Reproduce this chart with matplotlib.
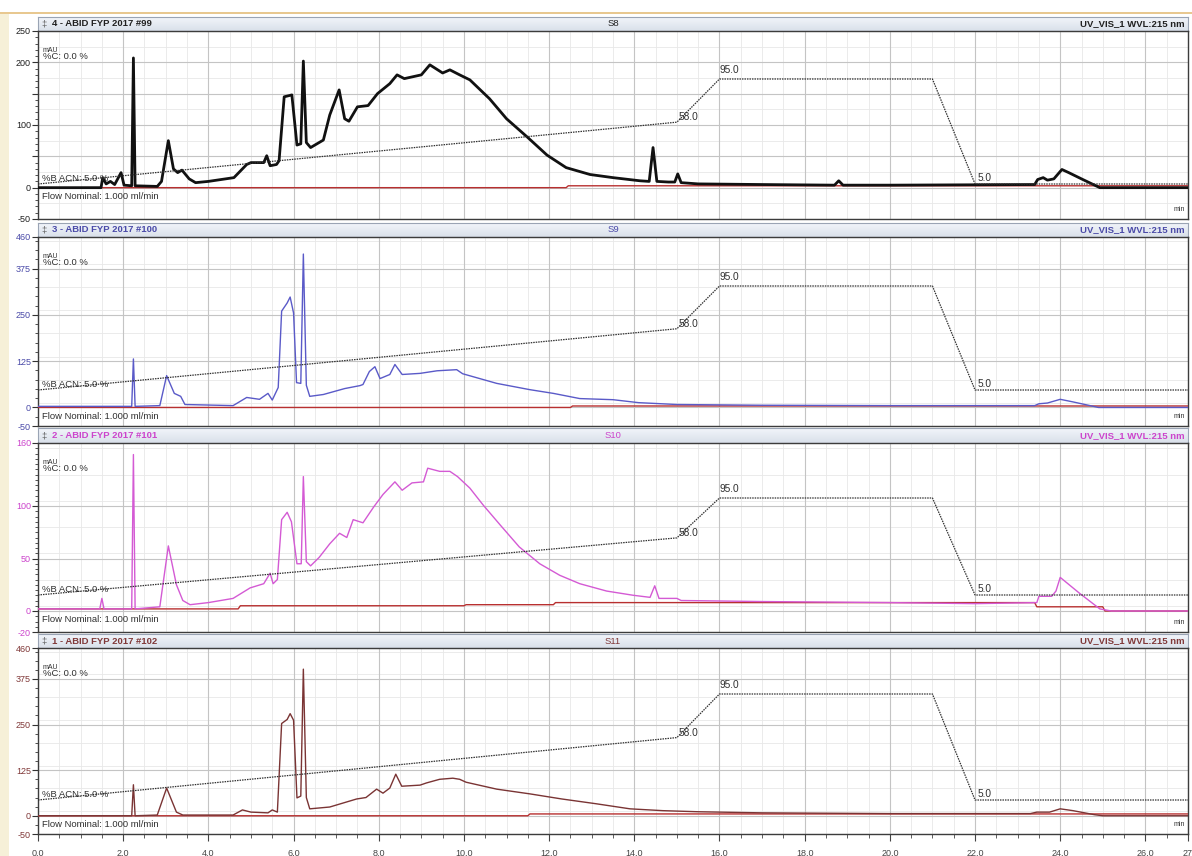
import matplotlib
matplotlib.use('Agg')
import matplotlib.pyplot as plt
from matplotlib.ticker import MultipleLocator, FixedLocator
from matplotlib.patches import Rectangle
import numpy as np

W, H = 1192, 856
plt.rcParams['font.family'] = ['Liberation Sans', 'DejaVu Sans']

# ---------------- data ----------------
x_ticks = [0, 2, 4, 6, 8, 10, 12, 14, 16, 18, 20, 22, 24, 26, 27]
x_tick_labels = ['0.0', '2.0', '4.0', '6.0', '8.0', '10.0', '12.0', '14.0',
                 '16.0', '18.0', '20.0', '22.0', '24.0', '26.0', '27']

# gradient program (%B ACN)
grad_time = [0.0, 15.0, 16.0, 21.0, 22.0, 27.0]
grad_pct = [5.0, 58.0, 95.0, 95.0, 5.0, 5.0]
grad_labels = ['%B ACN: 5.0 %', '58.0', '95.0', '5.0']

titles = ['4 - ABID FYP 2017 #99', '3 - ABID FYP 2017 #100',
          '2 - ABID FYP 2017 #101', '1 - ABID FYP 2017 #102']
samples = ['S8', 'S9', 'S10', 'S11']
channel = 'UV_VIS_1 WVL:215 nm'

# S8 (panel 1)
s8_time = [0, 1.48, 1.52, 1.6, 1.7, 1.8, 1.95, 2.02, 2.2, 2.24, 2.28, 2.8, 2.9, 3.06,
           3.18, 3.28, 3.38, 3.55, 3.7, 4.0, 4.6, 4.9, 5.0, 5.3, 5.37, 5.45, 5.6,
           5.66, 5.78, 5.96, 6.08, 6.17, 6.23, 6.3, 6.4, 6.7, 6.85, 7.07, 7.2,
           7.3, 7.5, 7.75, 7.97, 8.26, 8.43, 8.6, 9.0, 9.2, 9.5, 9.67, 9.9,
           10.14, 10.6, 11.0, 11.5, 11.95, 12.4, 12.96, 13.5, 14.13, 14.35,
           14.44, 14.53, 14.8, 14.95, 15.02, 15.1, 15.5, 17.0, 18.7, 18.8,
           18.9, 20.0, 23.4, 23.47, 23.6, 23.7, 23.85, 24.04, 24.2, 24.5,
           24.93, 27.0]
s8_mau = [0, 0, 16, 6, 10, 5, 24, 4, 3, 207, 3, 2, 10, 75,
          30, 24, 28, 14, 8, 10, 16, 37, 40, 40, 51, 35, 37,
          43, 145, 148, 68, 70, 202, 72, 64, 76, 116, 156, 110,
          106, 129, 131, 150, 166, 180, 174, 180, 196, 183, 188, 180,
          172, 142, 110, 80, 52, 32, 21, 16, 11, 10,
          64, 10, 9, 9, 22, 8, 6, 5, 4, 11,
          4, 4, 5, 13, 16, 12, 14, 29, 24, 14,
          0, 0]
s8_base_time = [0, 12.4, 12.45, 27]
s8_base_mau = [0, 0, 3, 3]

# S9 (panel 2)
s9_time = [0, 2.2, 2.24, 2.28, 2.86, 3.02, 3.2, 3.35, 3.45, 4.58, 4.9, 5.2, 5.4,
           5.5, 5.64, 5.72, 5.85, 5.92, 6.0, 6.07, 6.17, 6.23, 6.3, 6.38, 6.7,
           7.2, 7.56, 7.63, 7.78, 7.91, 8.03, 8.26, 8.38, 8.55, 8.97, 9.37,
           9.83, 9.97, 10.77, 11.55, 12.1, 12.72, 13.5, 14.1, 15.0, 17.0,
           20.0, 23.4, 23.5, 23.7, 24.0, 24.3, 24.9, 27.0]
s9_mau = [3, 3, 131, 3, 5, 86, 38, 30, 8, 5, 27, 22, 38,
          20, 54, 260, 282, 298, 255, 67, 65, 414, 60, 30, 35,
          51, 59, 62, 97, 110, 78, 89, 116, 89, 92, 99,
          102, 91, 65, 48, 38, 24, 21, 13, 8, 6,
          5, 5, 10, 12, 22, 15, 0, 0]
s9_base_time = [0, 12.5, 12.55, 27]
s9_base_mau = [0, 0, 4, 4]

# S10 (panel 3)
s10_time = [0, 1.45, 1.5, 1.55, 2.2, 2.24, 2.28, 2.86, 3.06, 3.25, 3.4, 3.57, 4.0,
            4.58, 4.98, 5.3, 5.45, 5.52, 5.62, 5.72, 5.85, 5.95, 6.08, 6.18,
            6.23, 6.3, 6.4, 6.6, 6.85, 7.08, 7.25, 7.4, 7.63, 7.88, 8.1, 8.38,
            8.55, 8.78, 9.05, 9.15, 9.43, 9.67, 9.85, 10.14, 10.45, 10.85,
            11.3, 11.78, 12.25, 12.72, 13.35, 13.97, 14.37, 14.48, 14.58,
            15.0, 15.1, 17.0, 20.0, 22.0, 23.45, 23.5, 23.8, 23.9, 24.0,
            24.15, 24.45, 24.93, 25.2, 27.0]
s10_mau = [2, 2, 12, 2, 2, 149, 2, 4, 62, 25, 10, 6, 8,
           12, 22, 26, 36, 26, 30, 87, 94, 85, 45, 45,
           128, 47, 43, 51, 64, 74, 70, 87, 84, 99, 111, 123,
           115, 122, 123, 136, 133, 133, 128, 117, 101, 82,
           61, 45, 34, 26, 19, 15, 13, 24, 12,
           12, 10, 9, 8, 7, 8, 14, 14, 19, 32,
           27, 17, 2, 0, 0]
s10_base_time = [0, 4.7, 4.75, 10.0, 10.05, 12.1, 12.15, 23.4, 23.45, 25.0, 25.05, 27]
s10_base_mau = [2, 2, 5, 5, 6, 6, 8, 8, 4, 4, 0, 0]

# S11 (panel 4)
s11_time = [0, 2.2, 2.24, 2.28, 2.8, 3.02, 3.25, 3.4, 4.58, 4.8, 5.0, 5.4, 5.5,
            5.62, 5.72, 5.85, 5.92, 6.0, 6.08, 6.17, 6.23, 6.3, 6.38, 6.85,
            7.48, 7.7, 7.95, 8.1, 8.26, 8.4, 8.54, 8.97, 9.12, 9.43, 9.74,
            9.9, 10.05, 10.77, 11.55, 12.3, 13.1, 13.9, 14.67, 15.5, 17.0,
            20.0, 23.3, 23.45, 23.75, 24.0, 24.3, 24.8, 25.0, 27.0]
s11_mau = [0, 0, 85, 0, 2, 76, 10, 2, 2, 16, 10, 8, 16,
           10, 253, 264, 280, 262, 49, 54, 402, 50, 19, 24,
           46, 50, 73, 62, 76, 114, 81, 84, 90, 100, 103,
           100, 92, 73, 60, 46, 33, 19, 14, 11, 8,
           6, 6, 10, 10, 19, 14, 3, 0, 0]
s11_base_time = [0, 11.5, 11.55, 27]
s11_base_mau = [0, 0, 5, 5]

y_ticks = [[-50, 0, 50, 100, 150, 200, 250],
           [-50, 0, 125, 250, 375, 460],
           [-20, 0, 50, 100, 160],
           [-50, 0, 125, 250, 375, 460]]
y_tick_labels = [['-50', '0', '', '100', '', '200', '250'],
                 ['-50', '0', '125', '250', '375', '460'],
                 ['-20', '0', '50', '100', '160'],
                 ['-50', '0', '125', '250', '375', '460']]

traces = [(s8_time, s8_mau, s8_base_time, s8_base_mau),
          (s9_time, s9_mau, s9_base_time, s9_base_mau),
          (s10_time, s10_mau, s10_base_time, s10_base_mau),
          (s11_time, s11_mau, s11_base_time, s11_base_mau)]

# ---------------- layout / style ----------------
panels = [
    dict(head=(17, 31), plot=(31, 219), ylim=(-50, 250), p5=184, p95=79,
         color='#111111', lw=2.0, tcol='#202020', minor=10, grid_minor=25),
    dict(head=(223, 237), plot=(237, 426), ylim=(-50, 460), p5=390, p95=286,
         color='#5a5ac8', lw=1.0, tcol='#4a4aa8', minor=25, grid_minor=62.5),
    dict(head=(428, 443), plot=(443, 632), ylim=(-20, 160), p5=595, p95=498,
         color='#d45ad4', lw=1.0, tcol='#cc44cc', minor=5, grid_minor=25),
    dict(head=(634, 648), plot=(648, 834), ylim=(-50, 460), p5=800, p95=694,
         color='#7a3434', lw=1.0, tcol='#803838', minor=25, grid_minor=62.5),
]
X0, X1 = 38, 1188


def box(x0, y0, x1, y1):
    return [x0 / W, 1 - y1 / H, (x1 - x0) / W, (y1 - y0) / H]


fig = plt.figure(figsize=(W / 100, H / 100), dpi=100)
fig.patch.set_facecolor('white')
# window chrome
fig.patches.append(Rectangle((0, 0), 9 / W, 1 - 13 / H, transform=fig.transFigure,
                             facecolor='#f6f0d8', edgecolor='none', zorder=0))
fig.patches.append(Rectangle((0, 1 - 14 / H), 1, 2 / H, transform=fig.transFigure,
                             facecolor='#e8c890', edgecolor='none', zorder=0))

fs = 6.8
hcmap = matplotlib.colors.LinearSegmentedColormap.from_list('h', ['#f2f5fa', '#d9e0ea'])
for i, cfg in enumerate(panels):
    # header
    hx = fig.add_axes(box(X0, cfg['head'][0], X1, cfg['head'][1]))
    grad = np.linspace(0, 1, 50).reshape(-1, 1)
    hx.imshow(grad, aspect='auto', cmap=hcmap, extent=(0, 1, 0, 1))
    hx.set_xlim(0, 1)
    hx.set_ylim(0, 1)
    hx.set_xticks([])
    hx.set_yticks([])
    for s in hx.spines.values():
        s.set_color('#9aa4b4')
        s.set_linewidth(0.8)
    hx.text(0.003, 0.5, '\u2021', color='#606060', fontsize=fs, va='center', ha='left')
    hx.text(0.012, 0.5, titles[i], color=cfg['tcol'], fontsize=fs, va='center', ha='left',
            fontweight='bold')
    hx.text(0.5, 0.5, samples[i], color=cfg['tcol'], fontsize=fs, va='center', ha='center')
    hx.text(0.997, 0.5, channel, color=cfg['tcol'], fontsize=fs, va='center', ha='right',
            fontweight='bold')

    # plot
    ax = fig.add_axes(box(X0, cfg['plot'][0], X1, cfg['plot'][1]))
    t, v, bt, bv = traces[i]
    ax.set_xlim(0, 27)
    ax.set_ylim(*cfg['ylim'])
    ax.xaxis.set_major_locator(MultipleLocator(2))
    ax.xaxis.set_minor_locator(MultipleLocator(0.5))
    ax.yaxis.set_major_locator(FixedLocator(y_ticks[i]))
    ax.set_yticklabels(y_tick_labels[i])
    ax.yaxis.set_minor_locator(MultipleLocator(cfg['minor']))
    ax.grid(which='major', axis='x', color='#c4c4c4', lw=0.8)
    ax.grid(which='major', axis='y', color='#c4c4c4', lw=0.8)
    ax.grid(which='minor', axis='x', color='#e8e8e8', lw=0.6)
    for yy in np.arange(cfg['ylim'][0], cfg['ylim'][1], cfg['grid_minor']):
        ax.axhline(yy, color='#e8e8e8', lw=0.6, zorder=0)
    ax.set_axisbelow(True)
    ax.tick_params(axis='y', which='major', length=4, width=0.8, colors='#333333',
                   labelsize=6.5, labelcolor=cfg['tcol'], pad=1, direction='out')
    ax.tick_params(axis='y', which='minor', length=2, width=0.6, colors='#333333')
    if i < 3:
        ax.tick_params(axis='x', which='both', length=0, labelbottom=False)
    else:
        ax.set_xticks(x_ticks)
        ax.set_xticklabels(x_tick_labels)
        ax.tick_params(axis='x', which='major', length=5, width=0.8, colors='#444444',
                       labelsize=6.5, pad=6)
        ax.tick_params(axis='x', which='minor', length=3, width=0.6, colors='#444444')
    for s in ax.spines.values():
        s.set_color('#3c3c3c')
        s.set_linewidth(1.0)

    ax.plot(bt, bv, color='#b83030', lw=1.0, zorder=3)
    ax.plot(t, v, color=cfg['color'], lw=cfg['lw'], zorder=4, solid_joinstyle='round')

    # gradient on twin scale
    T, B = cfg['plot']
    s = (cfg['p5'] - cfg['p95']) / 90.0
    lo = 5 - (B - cfg['p5']) / s
    hi = 95 + (cfg['p95'] - T) / s
    ax2 = ax.twinx()
    ax2.set_ylim(lo, hi)
    ax2.set_xlim(0, 27)
    ax2.set_yticks([])
    for sp in ax2.spines.values():
        sp.set_visible(False)
    ax2.plot(grad_time, grad_pct, color='#303030', lw=0.9, ls=(0, (1.2, 0.8)), zorder=5)
    ax2.annotate(grad_labels[1], (grad_time[1], grad_pct[1]), xytext=(1, 0),
                 textcoords='offset points', fontsize=fs + 0.5, color='#303030',
                 ha='left', va='bottom')
    ax2.annotate(grad_labels[2], (grad_time[2], grad_pct[2]), xytext=(0, 3),
                 textcoords='offset points', fontsize=fs + 0.5, color='#303030',
                 ha='left', va='bottom')
    ax2.annotate(grad_labels[3], (grad_time[4], grad_pct[4]), xytext=(2, 1),
                 textcoords='offset points', fontsize=fs + 0.5, color='#303030',
                 ha='left', va='bottom')
    ax2.annotate(grad_labels[0], (0, grad_pct[0]), xytext=(3, 1),
                 textcoords='offset points', fontsize=fs, color='#303030',
                 ha='left', va='bottom')
    ax.annotate('Flow Nominal: 1.000 ml/min', (0, 0), xytext=(3, -3),
                textcoords='offset points', fontsize=fs, color='#303030',
                ha='left', va='top', zorder=6)
    ax.text(0.004, 1 - 16 / (B - T), 'mAU', transform=ax.transAxes, fontsize=5,
            color='#303030', ha='left', va='top')
    ax.text(0.004, 1 - 21 / (B - T), '%C: 0.0 %', transform=ax.transAxes, fontsize=fs,
            color='#303030', ha='left', va='top')
    ax.text(0.997, 0.03, 'min', transform=ax.transAxes, fontsize=5,
            color='#303030', ha='right', va='bottom')

fig.savefig('out.png', dpi=100, facecolor=fig.get_facecolor())
